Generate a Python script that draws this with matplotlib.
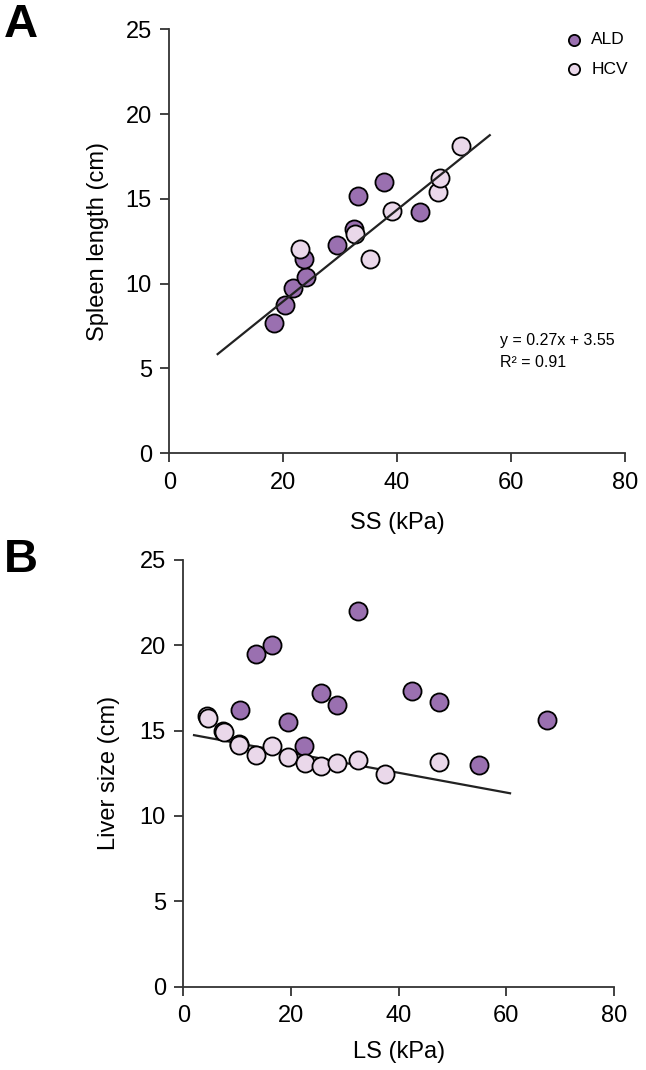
import matplotlib.pyplot as plt
import numpy as np

plt.rcParams['font.family'] = ['Liberation Sans', 'DejaVu Sans']

# Panel A: spleen stiffness vs spleen length
ald_ss = [18.4, 20.4, 21.8, 24.0, 23.6, 29.4, 32.4, 33.1, 37.7, 44.0]
ald_spleen = [7.7, 8.75, 9.75, 10.4, 11.45, 12.3, 13.25, 15.15, 16.0, 14.2]
hcv_ss = [23.0, 32.7, 35.3, 39.1, 47.2, 47.6, 51.2]
hcv_spleen = [12.05, 12.95, 11.45, 14.3, 15.4, 16.2, 18.1]
fit_a = (0.27, 3.55)
fit_a_range = (8.5, 56.3)

# Panel B: liver stiffness vs liver size
ald_ls = [32.5, 13.5, 16.5, 10.5, 19.5, 25.5, 28.5, 22.5, 42.5, 47.5, 67.6, 55.0]
ald_liver = [22.0, 19.5, 20.0, 16.2, 15.5, 17.2, 16.5, 14.1, 17.35, 16.65, 15.65, 13.0]
hcv_ls = [4.4, 4.6, 7.3, 7.5, 10.3, 10.4, 13.5, 16.5, 19.5, 22.6, 25.5, 28.5, 32.5, 37.5, 47.5]
hcv_liver = [15.85, 15.75, 14.95, 14.9, 14.2, 14.15, 13.55, 14.1, 13.45, 13.1, 12.95, 13.1, 13.3, 12.45, 13.15]
fit_b = (-0.058, 14.85)
fit_b_range = (2.0, 60.7)

ALD_COLOR = '#9a70b0'
HCV_COLOR = '#ead8ea'
SPINE = '#333333'


def style_axes(ax, xlabel, ylabel, xpad, ypad):
    ax.spines['top'].set_visible(False)
    ax.spines['right'].set_visible(False)
    for s in ['left', 'bottom']:
        ax.spines[s].set_color(SPINE)
        ax.spines[s].set_linewidth(1.3)
    ax.set_xlim(0, 80)
    ax.set_ylim(0, 25)
    ax.set_xticks(range(0, 81, 20))
    ax.set_yticks(range(0, 26, 5))
    ax.tick_params(direction='out', length=6.5, width=1.3, color=SPINE,
                   labelsize=17, pad=6)
    ax.tick_params(axis='x', pad=7)
    ax.set_xlabel(xlabel, fontsize=17, labelpad=xpad)
    ax.set_ylabel(ylabel, fontsize=17, labelpad=ypad)


fig = plt.figure(figsize=(6.46, 10.7), dpi=100)
ax_a = fig.add_axes([0.262, 0.5764, 0.705, 0.3963])
ax_b = fig.add_axes([0.2837, 0.0779, 0.6667, 0.3988])

marker_kw = dict(s=170, edgecolors='black', linewidths=1.3, zorder=3)

# panel A
xs = np.array(fit_a_range)
ax_a.plot(xs, fit_a[0] * xs + fit_a[1], color='#222222', lw=1.6, zorder=4)
ax_a.scatter(ald_ss, ald_spleen, color=ALD_COLOR, label='ALD', **marker_kw)
ax_a.scatter(hcv_ss, hcv_spleen, color=HCV_COLOR, label='HCV', **marker_kw)
style_axes(ax_a, 'SS (kPa)', 'Spleen length (cm)', 13, 12)
ax_a.legend(loc='upper left', bbox_to_anchor=(0.835, 1.009), frameon=False,
            fontsize=12.5, markerscale=0.62, handletextpad=0.0,
            labelspacing=0.8, borderaxespad=0)
ax_a.text(0.726, 0.265, 'y = 0.27x + 3.55', transform=ax_a.transAxes,
          fontsize=11.5, va='center')
ax_a.text(0.726, 0.215, 'R² = 0.91', transform=ax_a.transAxes,
          fontsize=11.5, va='center')

# panel B
xs = np.array(fit_b_range)
ax_b.plot(xs, fit_b[0] * xs + fit_b[1], color='#222222', lw=1.6, zorder=2)
ax_b.scatter(ald_ls, ald_liver, color=ALD_COLOR, **marker_kw)
ax_b.scatter(hcv_ls, hcv_liver, color=HCV_COLOR, **marker_kw)
style_axes(ax_b, 'LS (kPa)', 'Liver size (cm)', 10, 14)

fig.text(0.006, 0.997, 'A', fontsize=34, fontweight='bold', va='top')
fig.text(0.006, 0.497, 'B', fontsize=34, fontweight='bold', va='top')

fig.savefig('out.png', dpi=100)
